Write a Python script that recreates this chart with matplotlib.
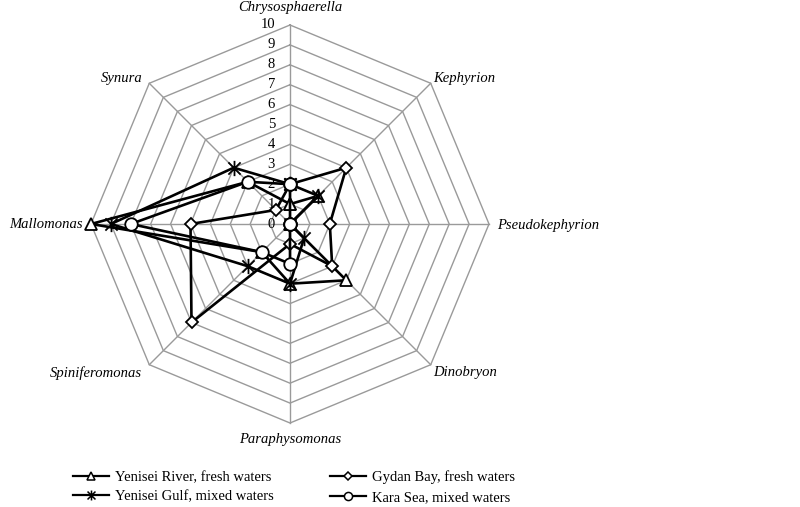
import numpy as np
import matplotlib
matplotlib.use("Agg")
import matplotlib.pyplot as plt
from matplotlib.path import Path
from matplotlib.lines import Line2D
from matplotlib.transforms import offset_copy

categories = ["Chrysosphaerella", "Kephyrion", "Pseudokephyrion", "Dinobryon",
              "Paraphysomonas", "Spiniferomonas", "Mallomonas", "Synura"]
yenisei_river = [1, 2, 0, 4, 3, 2, 10, 3]
yenisei_gulf = [2, 2, 0, 1, 3, 3, 9, 4]
gydan_bay = [2, 4, 2, 3, 1, 7, 5, 1]
kara_sea = [2, 0, 0, 0, 2, 2, 8, 3]
series_labels = ["Yenisei River, fresh waters", "Yenisei Gulf, mixed waters",
                 "Gydan Bay, fresh waters", "Kara Sea, mixed waters"]
tick_values = list(range(0, 11))

serif = ["Liberation Serif", "DejaVu Serif"]
plt.rcParams["font.family"] = serif

star = Path([(-1, -1), (1, 1), (-1, 1), (1, -1), (0, -1.25), (0, 1.25)],
            [Path.MOVETO, Path.LINETO, Path.MOVETO, Path.LINETO, Path.MOVETO, Path.LINETO])

fig = plt.figure(figsize=(8, 5.07), dpi=100)
ax = fig.add_axes([91 / 800, (507 - 423) / 507, 398 / 800, 398 / 507], projection="polar")
ax.set_theta_zero_location("N")
ax.set_theta_direction(-1)
ax.set_ylim(0, 10)
ax.grid(False)
ax.set_xticks([])
ax.set_yticks([])
ax.spines["polar"].set_visible(False)
ax.patch.set_alpha(0)

n = len(categories)
theta = np.arange(n) * 2 * np.pi / n
theta_c = np.append(theta, theta[0])

grid_col = "#9a9a9a"
for v in tick_values[1:]:
    ax.plot(theta_c, [v] * (n + 1), color=grid_col, lw=1.0, zorder=1, clip_on=False)
for t in theta:
    ax.plot([t, t], [0, 10], color=grid_col, lw=1.0, zorder=1, clip_on=False)

styles = [
    dict(marker="^", ms=8.5),
    dict(marker=star, ms=11),
    dict(marker="D", ms=6.5),
    dict(marker="o", ms=9),
]
data = [yenisei_river, yenisei_gulf, gydan_bay, kara_sea]
for i, (vals, st) in enumerate(zip(data, styles)):
    ax.plot(theta_c, list(vals) + [vals[0]], color="black", lw=1.9,
            marker=st["marker"], ms=st["ms"], mfc="white", mec="black", mew=1.3,
            zorder=3 + i, clip_on=False)

tr = offset_copy(ax.transData, fig=fig, x=-15, y=0, units="dots")
for v in tick_values:
    ax.text(0, v, str(v), transform=tr, ha="right", va="center", fontsize=10.5,
            color="black", zorder=10)

label_pos = [((0, 17), "center"), ((2, 5), "left"), ((8, -1), "left"), ((2, -8), "left"),
             ((0, -17), "center"), ((-7, -8), "right"), ((-8, -1), "right"), ((-7, 5), "right")]
for t, name, (off, ha) in zip(theta, categories, label_pos):
    ax.annotate(name, xy=(t, 10), xytext=off, textcoords="offset pixels",
                ha=ha, va="center", fontsize=10.5, fontstyle="italic", annotation_clip=False)

handles = []
for st in styles:
    handles.append(Line2D([], [], color="black", lw=1.6, marker=st["marker"],
                          ms=st["ms"] * 0.65, mfc="white", mec="black", mew=1.1))

common = dict(frameon=False, loc="center left", borderpad=0, borderaxespad=0,
              handlelength=2.5, handletextpad=0.4, labelspacing=0.45, fontsize=10.5)
leg1 = fig.legend(handles[:2], series_labels[:2], bbox_to_anchor=(73 / 800, (507 - 487) / 507), **common)
leg2 = fig.legend(handles[2:], series_labels[2:], bbox_to_anchor=(330 / 800, (507 - 487) / 507), **common)

fig.savefig("out.png", dpi=100, facecolor="white")
